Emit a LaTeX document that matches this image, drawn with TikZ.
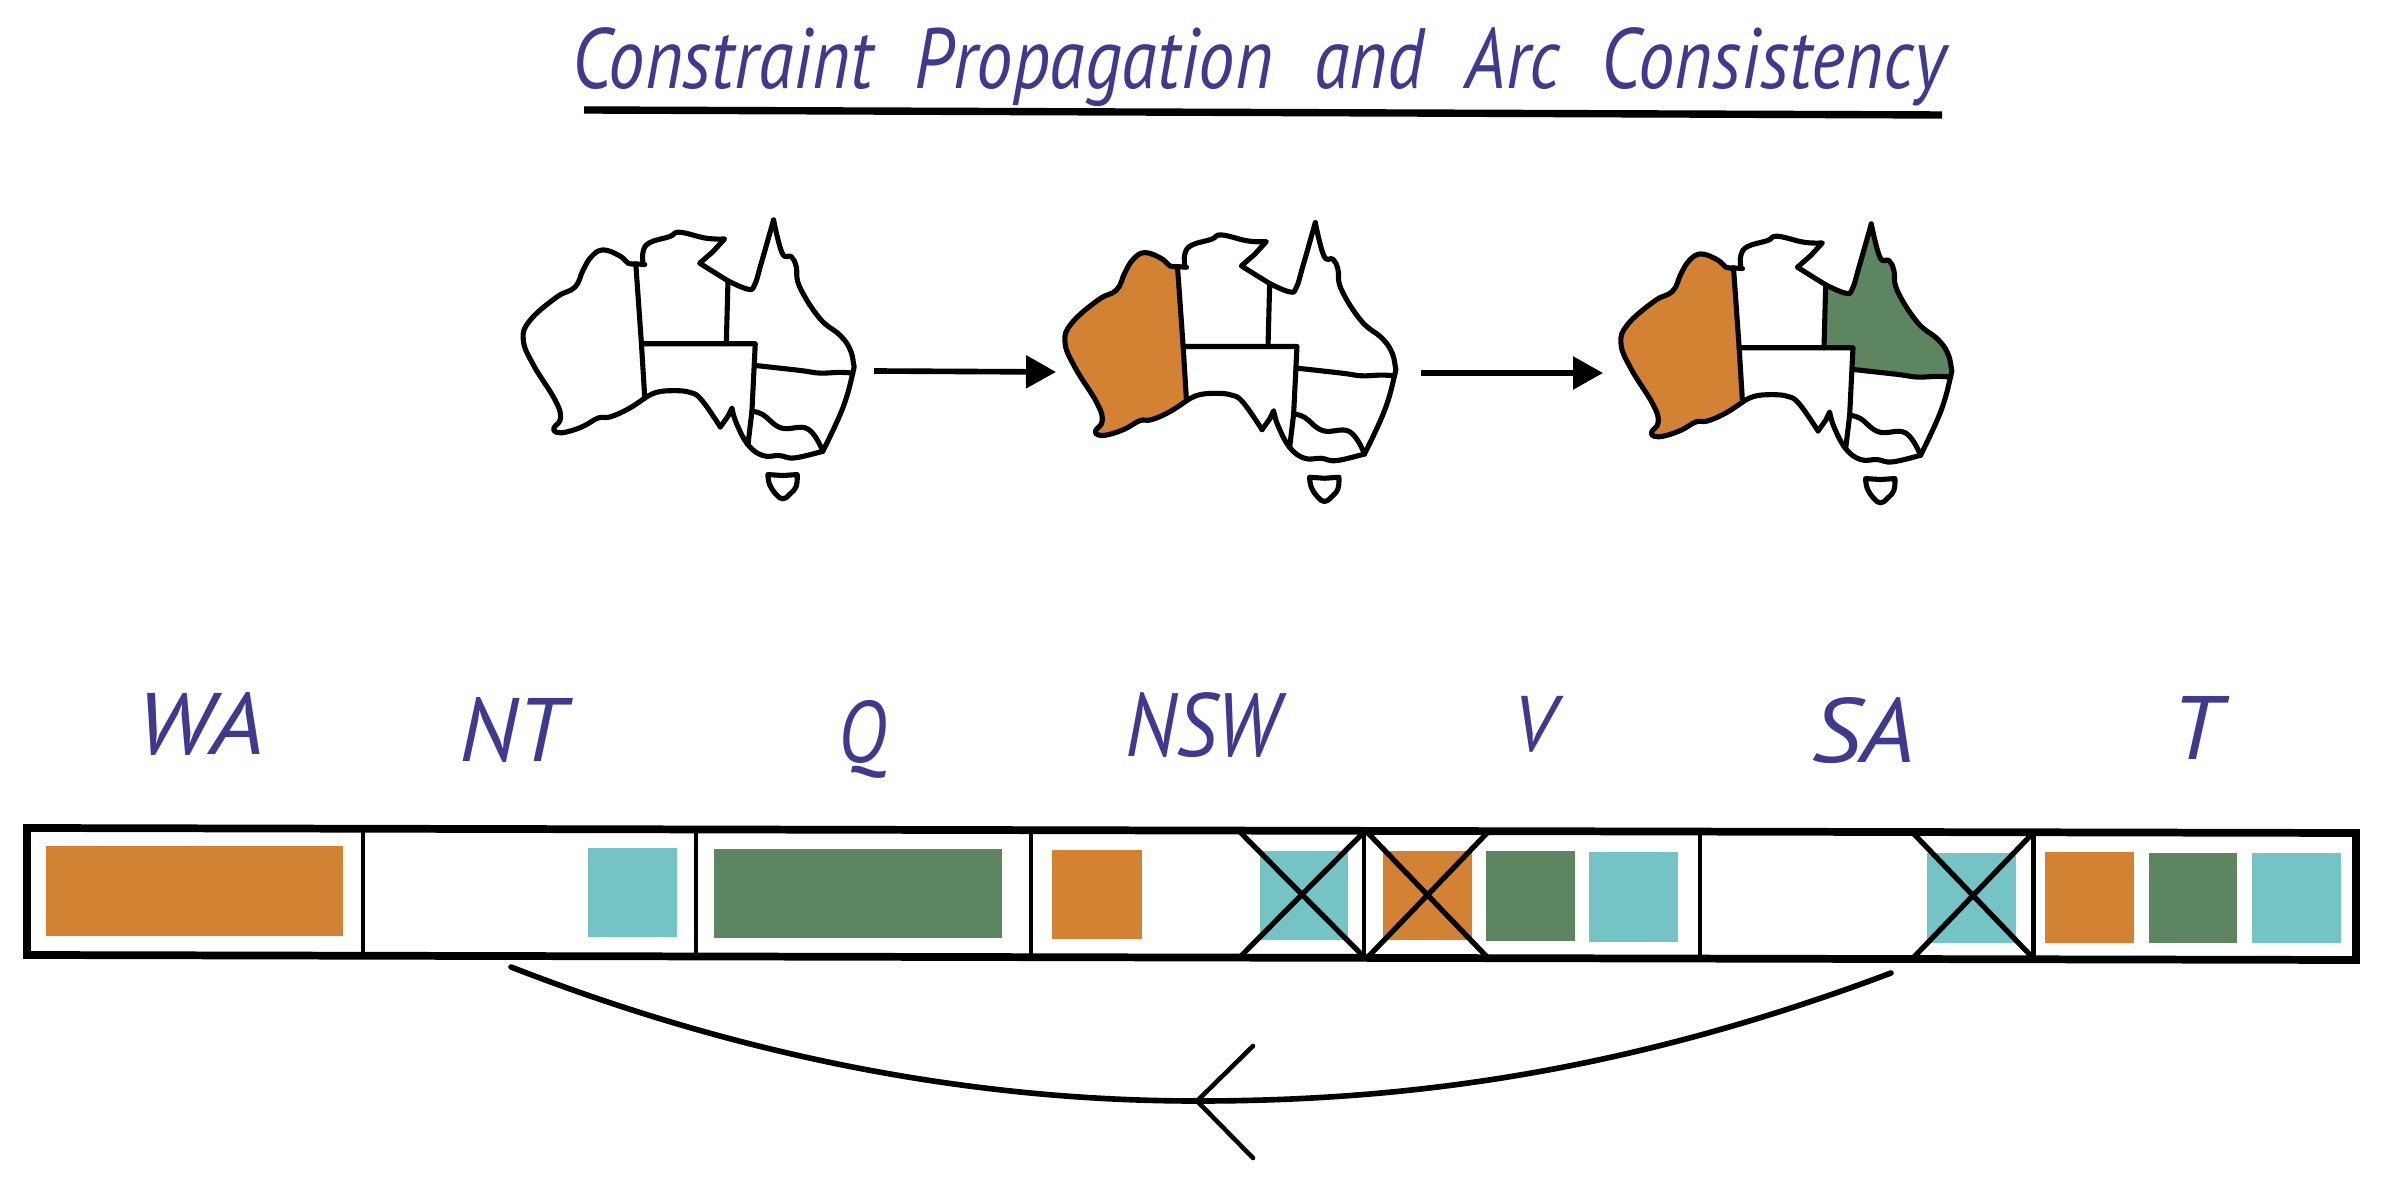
\documentclass[tikz,border=0pt]{standalone}
\usepackage{fontspec}
\usepackage{graphicx}
\setmainfont{PT Sans}
\usetikzlibrary{arrows.meta}
\definecolor{inkblue}{HTML}{3F3A8F}
\definecolor{dorange}{HTML}{D38233}
\definecolor{dgreen}{HTML}{5D8560}
\definecolor{dcyan}{HTML}{74C4C6}
\tikzset{
  mapline/.style={line width=1.45pt,line join=round,line cap=round,black},
  sm/.style={smooth,tension=.7},
  conn/.style={line width=1.6pt,-{Triangle[length=30*0.2845pt,width=32*0.2845pt]}},
  barline/.style={line width=2.2pt,line join=miter,black},
  divline/.style={line width=1.4pt,black},
  crossline/.style={line width=1.5pt,black},
  arcline/.style={line width=1.6pt,black,line cap=round},
  headline/.style={line width=1.3pt,black,line cap=round},
  hand/.style={inkblue,inner sep=0pt,outer sep=0pt,anchor=north west},
}
% #1 #2 offset, #3 WA fill, #4 Q fill
\newcommand\ausmap[4]{%
\begin{scope}[shift={(#1,#2)},x=0.0033333cm,y=-0.0033333cm]
\path[fill=#3] plot[sm] coordinates{(435,595) (385,628) (330,652) (295,655) (250,680) (200,697) (170,698) (162,685) (182,655) (165,600) (100,495) (70,420) (90,362) (170,292) (225,262) (250,210) (275,170) (310,150) (360,168) (385,190) (408,192)} -- (425,432) -- cycle;
\path[fill=#4] plot[sm] coordinates{(685,243) (745,268) (765,255) (785,190) (822,60)} -- plot[sm] coordinates{(822,60) (848,160) (875,170) (890,200) (900,260) (960,355) (1020,405) (1050,445) (1062,490) (1060,520)} -- plot[sm] coordinates{(1060,520) (1020,518) (960,520) (900,512) (765,497)} -- (767,432) -- (680,432) -- cycle;
% coast
\draw[mapline] plot[sm] coordinates{(435,595) (385,628) (330,652) (295,655) (250,680) (200,697) (170,698) (162,685) (182,655) (165,600) (100,495) (70,420) (90,362) (170,292) (225,262) (250,210) (275,170) (310,150) (360,168) (385,190) (408,192) (435,194)};
\draw[mapline] plot[sm] coordinates{(430,192) (430,155) (450,128) (510,110) (540,97) (620,115) (675,117)} -- (640,155) -- (600,190) -- (640,215) -- (685,243);
\draw[mapline] plot[sm] coordinates{(685,243) (745,268) (765,255) (785,190) (822,60)};
\draw[mapline] plot[sm] coordinates{(822,60) (848,160) (875,170) (890,200) (900,260) (960,355) (1020,405) (1050,445) (1062,490) (1060,520) (1030,625) (970,755)};
\draw[mapline] plot[sm] coordinates{(970,755) (885,775) (840,768) (790,768) (745,735) (710,670) (697,625)} -- (685,650) -- (662,682);
\draw[mapline] plot[sm] coordinates{(662,682) (605,600) (570,578) (520,573) (470,578) (435,595)};
% borders
\draw[mapline] (408,192) -- (425,432) -- (435,595);
\draw[mapline] (685,243) -- (680,432);
\draw[mapline] (425,432) -- (767,432) -- (757,635) -- (745,735);
\draw[mapline] plot[sm] coordinates{(765,497) (900,512) (960,520) (1020,518) (1060,520)};
\draw[mapline] plot[sm] coordinates{(757,635) (790,645) (845,685) (925,688) (970,755)};
% Tasmania
\draw[mapline] (805,825) -- (850,828) -- (893,825) plot[sm] coordinates{(893,825) (890,860) (870,885) (850,898) (830,885) (810,855) (805,825)};
\end{scope}}
\newcommand\swatch[5]{\fill[#1] (#2,#3) rectangle (#4,#5);}
\newcommand\crossout[4]{\draw[crossline] (#1,#3) -- (#2,#4); \draw[crossline] (#2,#3) -- (#1,#4);}
\begin{document}
\begin{tikzpicture}[x=0.01cm,y=-0.01cm]
\useasboundingbox (0,0) rectangle (2383,1189);
\fill[white] (0,0) rectangle (2383,1189);

% title
\node[hand] (title) at (572,28) {\resizebox*{13.73cm}{0.79cm}{\itshape Constraint\hspace{.3em} Propagation\hspace{.3em} and\hspace{.3em} Arc\hspace{.3em} Consistency}};
\coordinate (ruleL) at (584,110);
\coordinate (ruleR) at (1942,115);
\draw[line width=2.1pt,black] (ruleL) -- (ruleR);

% maps
\ausmap{500}{200}{white}{white}
\ausmap{1041.7}{202.7}{dorange}{white}
\ausmap{1597.7}{204}{dorange}{dgreen}

\coordinate (a1s) at (874,371);
\coordinate (a1e) at (1056,372);
\coordinate (a2s) at (1421,373);
\coordinate (a2e) at (1603,373);
\draw[conn] (a1s) -- (a1e);
\draw[conn] (a2s) -- (a2e);

% labels
\node[hand] (wa)  at (136,692) {\resizebox*{1.28cm}{0.63cm}{\itshape WA}};
\node[hand] (nt)  at (459,697) {\resizebox*{1.06cm}{0.65cm}{\itshape NT}};
\node[hand] (q)   at (838,700) {\resizebox*{0.48cm}{0.78cm}{\itshape Q}};
\node[hand] (nsw) at (1125,693) {\resizebox*{1.54cm}{0.65cm}{\itshape NSW}};
\node[hand] (v)   at (1513,696) {\resizebox*{0.42cm}{0.56cm}{\itshape V}};
\node[hand] (sa)  at (1811,698) {\resizebox*{1.04cm}{0.66cm}{\itshape SA}};
\node[hand] (t)   at (2171,696) {\resizebox*{0.50cm}{0.63cm}{\itshape T}};

% swatches
\swatch{dorange}{46}{846}{343}{936}
\swatch{dcyan}{588}{848}{677}{937}
\swatch{dgreen}{714}{849}{1002}{938}
\swatch{dorange}{1052}{850}{1142}{939}
\swatch{dcyan}{1260}{851}{1348}{940}
\swatch{dorange}{1383}{851}{1472}{940}
\swatch{dgreen}{1486}{851}{1575}{941}
\swatch{dcyan}{1589}{852}{1678}{942}
\swatch{dcyan}{1927}{853}{2016}{943}
\swatch{dorange}{2045}{852}{2134}{943}
\swatch{dgreen}{2149}{853}{2237}{943}
\swatch{dcyan}{2252}{853}{2341}{943}

% bar
\draw[barline] (27,828) -- (2356,833) -- (2356,960) -- (27,955) -- cycle;
\draw[divline] (363,829) -- (363,956);
\draw[divline] (696,830) -- (696,957);
\draw[divline] (1031,830) -- (1031,958);
\draw[divline] (1364,831) -- (1364,958);
\draw[divline] (1700,832) -- (1700,959);
\draw[divline] (2033,832) -- (2033,959);

% crosses
\crossout{1240}{1364}{832}{957}
\crossout{1367}{1488}{832}{958}
\crossout{1913}{2033}{833}{958}

% arc
\coordinate (arcS) at (1891,973);
\coordinate (arcM) at (1197,1101);
\coordinate (arcE) at (511,967);
\coordinate (headU) at (1253,1046);
\coordinate (headD) at (1253,1158);
\draw[arcline] (arcS) .. controls (1620,1075) and (1400,1101) .. (arcM) .. controls (980,1101) and (750,1060) .. (arcE);
\draw[headline] (headU) -- (arcM) -- (headD);
\end{tikzpicture}
\end{document}
